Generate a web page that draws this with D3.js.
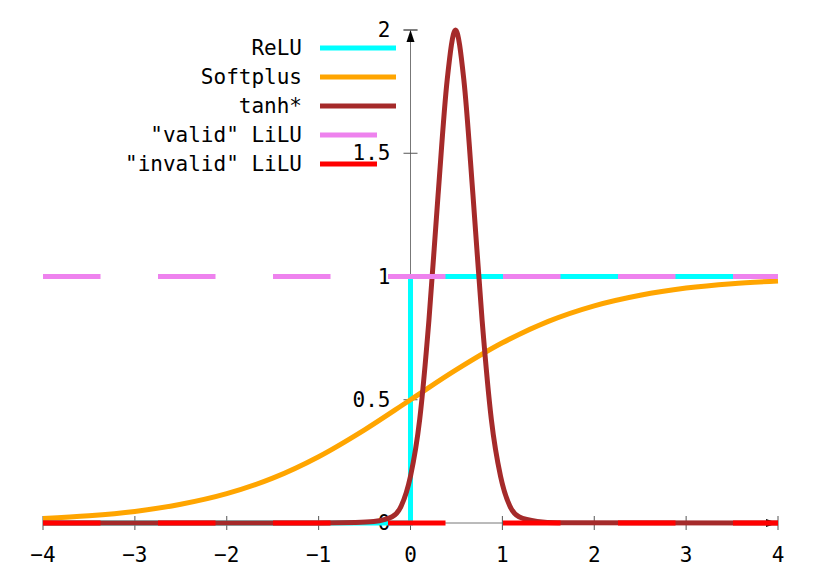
<!DOCTYPE html>
<html><head><meta charset="utf-8">
<script src="https://cdn.jsdelivr.net/npm/d3@7"></script>
<style>body{margin:0;background:#fff}</style></head>
<body><svg id="c" width="830" height="581"></svg>
<script>
const xTicks=[-4,-3,-2,-1,0,1,2,3,4];
const yTicks=[0,0.5,1,1.5,2];
const yTickLabels=["0","0.5","1","1.5","2"];
const reluX=[-4,0,0,4];
const reluY=[0,0,1,1];
const softX=[-4,-3.5,-3,-2.5,-2,-1.5,-1,-0.5,0,0.5,1,1.5,2,2.5,3,3.5,4];
const softY=[0.018,0.029,0.047,0.076,0.119,0.182,0.269,0.378,0.5,0.622,0.731,0.818,0.881,0.924,0.953,0.971,0.982];
const tanhX=[-4,-1,-0.6,-0.4,-0.2,-0.1,0,0.1,0.2,0.3,0.4,0.49,0.58,0.68,0.78,0.88,0.98,1.08,1.18,1.38,1.6,4];
const tanhY=[0,0,0.002,0.006,0.025,0.07,0.19,0.42,0.82,1.33,1.8,2.0,1.8,1.33,0.82,0.42,0.19,0.07,0.025,0.006,0.001,0];
const validX=[-4,4], validY=[1,1];
const invalidX=[-4,4], invalidY=[0,0];
const names=["ReLU","Softplus","tanh*","\"valid\" LiLU","\"invalid\" LiLU"];
const colors=["#00ffff","#ffa500","#a52a2a","#ee82ee","#ff0000"];

const svg=d3.select("#c");
const x=d3.scaleLinear().domain([-4,4]).range([43,778]);
const y=d3.scaleLinear().domain([0,2]).range([523,30]);
const font="'DejaVu Sans Mono', monospace";

// axes
svg.append("line").attr("x1",x(-4)).attr("x2",x(4)).attr("y1",y(0)).attr("y2",y(0)).attr("stroke","#777").attr("stroke-width",1);
svg.append("line").attr("x1",x(0)).attr("x2",x(0)).attr("y1",y(0)).attr("y2",y(2)).attr("stroke","#777").attr("stroke-width",1);
svg.append("path").attr("d",`M${x(4)},${y(0)} l-12,-4 v8 z`).attr("fill","#000");
svg.append("path").attr("d",`M${x(0)},${y(2)} l-4,12 h8 z`).attr("fill","#000");
svg.append("line").attr("x1",x(0)-7).attr("x2",x(0)+7).attr("y1",y(2)).attr("y2",y(2)).attr("stroke","#555");
xTicks.forEach(t=>{
  svg.append("line").attr("x1",x(t)).attr("x2",x(t)).attr("y1",y(0)-7).attr("y2",y(0)+7).attr("stroke","#555");
  svg.append("text").attr("x",x(t)).attr("y",562).attr("text-anchor","middle").attr("font-family",font).attr("font-size",21).text(t<0?"\u2212"+(-t):t);
});
yTicks.forEach((t,i)=>{
  svg.append("line").attr("x1",x(0)-7).attr("x2",x(0)+7).attr("y1",y(t)).attr("y2",y(t)).attr("stroke","#555");
  svg.append("text").attr("x",x(0)-20).attr("y",y(t)+7).attr("text-anchor","end").attr("font-family",font).attr("font-size",21).text(yTickLabels[i]);
});

const line=d3.line().x(d=>x(d[0])).y(d=>y(d[1]));
const series=[
  [d3.zip(reluX,reluY),d3.curveLinear,null],
  [d3.zip(softX,softY),d3.curveMonotoneX,null],
  [d3.zip(tanhX,tanhY),d3.curveMonotoneX,null],
  [d3.zip(validX,validY),d3.curveLinear,"57.5,57.5"],
  [d3.zip(invalidX,invalidY),d3.curveLinear,"57.5,57.5"]
];
series.forEach((s,i)=>{
  svg.append("path").attr("d",line.curve(s[1])(s[0])).attr("fill","none").attr("stroke",colors[i])
    .attr("stroke-width",5).attr("stroke-dasharray",s[2]);
});
// legend
names.forEach((n,i)=>{
  const yy=48+i*29;
  svg.append("text").attr("x",302).attr("y",yy+7).attr("text-anchor","end").attr("font-family",font).attr("font-size",21).text(n);
  svg.append("line").attr("x1",320).attr("x2",i<3?396:377).attr("y1",yy).attr("y2",yy).attr("stroke",colors[i]).attr("stroke-width",5);
});
</script></body></html>
